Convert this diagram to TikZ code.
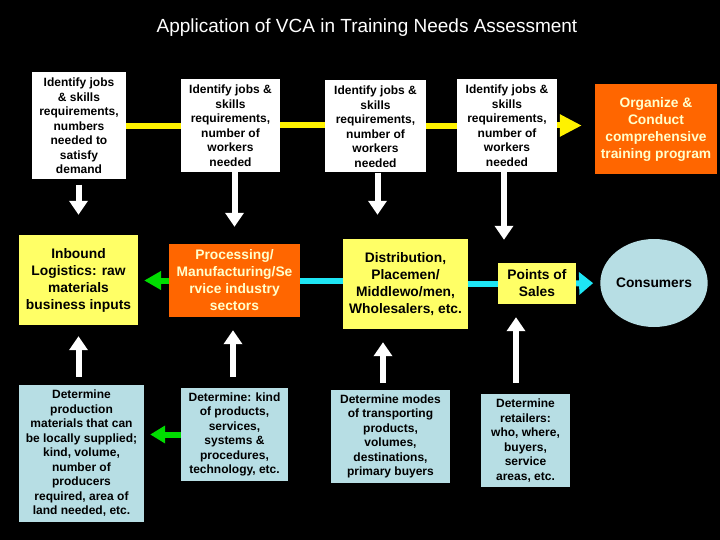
\documentclass[tikz,border=0pt]{standalone}
\usepackage{fontspec}
\setmainfont{Liberation Sans}
\usetikzlibrary{positioning, arrows.meta, shapes}
\definecolor{boxOrange}{RGB}{255,102,0}
\definecolor{boxYellow}{RGB}{255,255,102}
\definecolor{boxBlue}{RGB}{183,222,228}
\definecolor{lineCyan}{RGB}{30,230,245}
\definecolor{arrowGreen}{RGB}{0,220,0}
\definecolor{paleText}{RGB}{255,255,204}

\begin{document}
\begin{tikzpicture}[x=1pt, y=-1pt,
	smalltext/.style={font=\fontsize{12}{14.5}\selectfont\bfseries, align=center, inner sep=0pt},
	bigtext/.style={font=\fontsize{13.8}{17}\selectfont\bfseries, align=center, inner sep=0pt},
	whitebox/.style={smalltext, rectangle, fill=white},
	bluebox/.style={smalltext, rectangle, fill=boxBlue},
	yellowbox/.style={bigtext, rectangle, fill=boxYellow},
	orangebox/.style={bigtext, rectangle, fill=boxOrange, text=paleText},
	yline/.style={draw=yellow, line width=6pt},
	cline/.style={draw=lineCyan, line width=6pt},
	warrow/.style={draw=white, line width=6pt, -{Triangle[width=18pt,length=14pt]}},
	garrow/.style={draw=arrowGreen, line width=6pt, -{Triangle[width=18pt,length=17pt]}}]
	
		\fill[black] (0,0) rectangle (720,540);
		\useasboundingbox (0,0) rectangle (720,540);
		
		\node (title) at (367,28) [text=white, font=\fontsize{19}{23}\selectfont]{Application of VCA in Training Needs Assessment};
		
		%Top row
		\node (demandJobs) at (79,126) [whitebox, minimum width=94pt, minimum 
		height=107pt]{Identify jobs\\\& skills\\requirements,\\numbers\\needed to\\satisfy\\demand};
		
		\node (processJobs) at (230.5,125.5) [whitebox, minimum width=99pt, minimum 
		height=93pt]{Identify jobs \&\\skills\\requirements,\\number of\\workers\\needed};
		
		\node (distribJobs) at (375.5,126.5) [whitebox, minimum width=101pt, minimum 
		height=92pt]{Identify jobs \&\\skills\\requirements,\\number of\\workers\\needed};
		
		\node (salesJobs) at (507,125.5) [whitebox, minimum width=100pt, minimum 
		height=93pt]{Identify jobs \&\\skills\\requirements,\\number of\\workers\\needed};
		
		\node (training) at (656,129) [orangebox, minimum width=122pt, minimum 
		height=90pt]{Organize \&\\Conduct\\comprehensive\\training program};
		
		%Middle row
		\node (inbound) at (78.5,280) [yellowbox, minimum width=119pt, minimum 
		height=90pt]{Inbound\\Logistics: raw\\materials\\business inputs};
		
		\node (processing) at (234.5,280.5) [orangebox, minimum width=131pt, minimum 
		height=73pt]{Processing/\\Manufacturing/Se\\rvice industry\\sectors};
		
		\node (distribution) at (405.5,284) [yellowbox, minimum width=125pt, minimum 
		height=90pt]{Distribution,\\Placemen/\\Middlewo/men,\\Wholesalers, etc.};
		
		\node (salesPoints) at (537,283.5) [yellowbox, minimum width=78pt, minimum 
		height=41pt]{Points of\\Sales};
		
		\node (consumers) at (654,283) [bigtext, ellipse, fill=boxBlue, minimum width=94pt, minimum 
		height=88pt]{Consumers};
		
		%Bottom row
		\node (inputs) at (81.5,453.5) [bluebox, minimum width=125pt, minimum 
		height=137pt]{Determine\\production\\materials that can\\be locally supplied;\\kind, volume,\\number of\\producers\\required, area of\\land needed, etc.};
		
		\node (products) at (234.5,434.5) [bluebox, minimum width=107pt, minimum 
		height=93pt]{Determine: kind\\of products,\\services,\\systems \&\\procedures,\\technology, etc.};
		
		\node (transport) at (390.5,436.5) [bluebox, minimum width=119pt, minimum 
		height=93pt]{Determine modes\\of transporting\\products,\\volumes,\\destinations,\\primary buyers};
		
		\node (retailers) at (525.5,440.5) [bluebox, minimum width=89pt, minimum 
		height=93pt]{Determine\\retailers:\\who, where,\\buyers,\\service\\areas, etc.};
		
		%Links
		\draw[yline] (demandJobs.east) -- (demandJobs.east -| processJobs.west);
		\draw[yline] (processJobs.east) -- (processJobs.east -| distribJobs.west);
		\draw[yline] (distribJobs.east) -- (distribJobs.east -| salesJobs.west);
		\draw[yline, -{Triangle[width=21pt,length=22pt]}, shorten >=13pt] (salesJobs.east) -- (salesJobs.east -| training.west);
		
		\draw[warrow, shorten <=5pt, shorten >=20pt] (inbound.north |- demandJobs.south) -- (inbound.north);
		\draw[warrow, shorten >=17pt] (processing.north |- processJobs.south) -- (processing.north);
		\draw[warrow, shorten >=24pt] ([xshift=2pt]distribJobs.south) -- ([xshift=2pt]distribJobs.south |- distribution.north);
		\draw[warrow, shorten >=23pt] ([xshift=-3pt]salesJobs.south) -- ([xshift=-3pt]salesJobs.south |- salesPoints.north);
		
		\draw[warrow, shorten <=8pt, shorten >=11pt] (inbound.south |- inputs.north) -- (inbound.south);
		\draw[warrow, shorten <=11pt, shorten >=13pt] ([xshift=-1.5pt]processing.south |- products.north) -- ([xshift=-1.5pt]processing.south);
		\draw[warrow, shorten <=7pt, shorten >=13pt] ([xshift=-7.5pt]transport.north) -- ([xshift=-7.5pt]transport.north |- distribution.south);
		\draw[warrow, shorten <=11pt, shorten >=13pt] ([xshift=-9.5pt]retailers.north) -- ([xshift=-9.5pt]retailers.north |- salesPoints.south);
		
		\draw[garrow, shorten >=6pt] (processing.west) -- (processing.west -| inbound.east);
		\draw[cline] (processing.east) -- (processing.east -| distribution.west);
		\draw[cline] (salesPoints.west -| distribution.east) -- (salesPoints.west);
		\draw[cline, -{Triangle[width=22pt,length=14pt]}, shorten >=7pt] (salesPoints.east) -- (consumers.west);
		\draw[garrow, -{Triangle[width=17pt,length=15pt]}, shorten >=6pt] (products.west) -- (products.west -| inputs.east);
		
\end{tikzpicture}
\end{document}
